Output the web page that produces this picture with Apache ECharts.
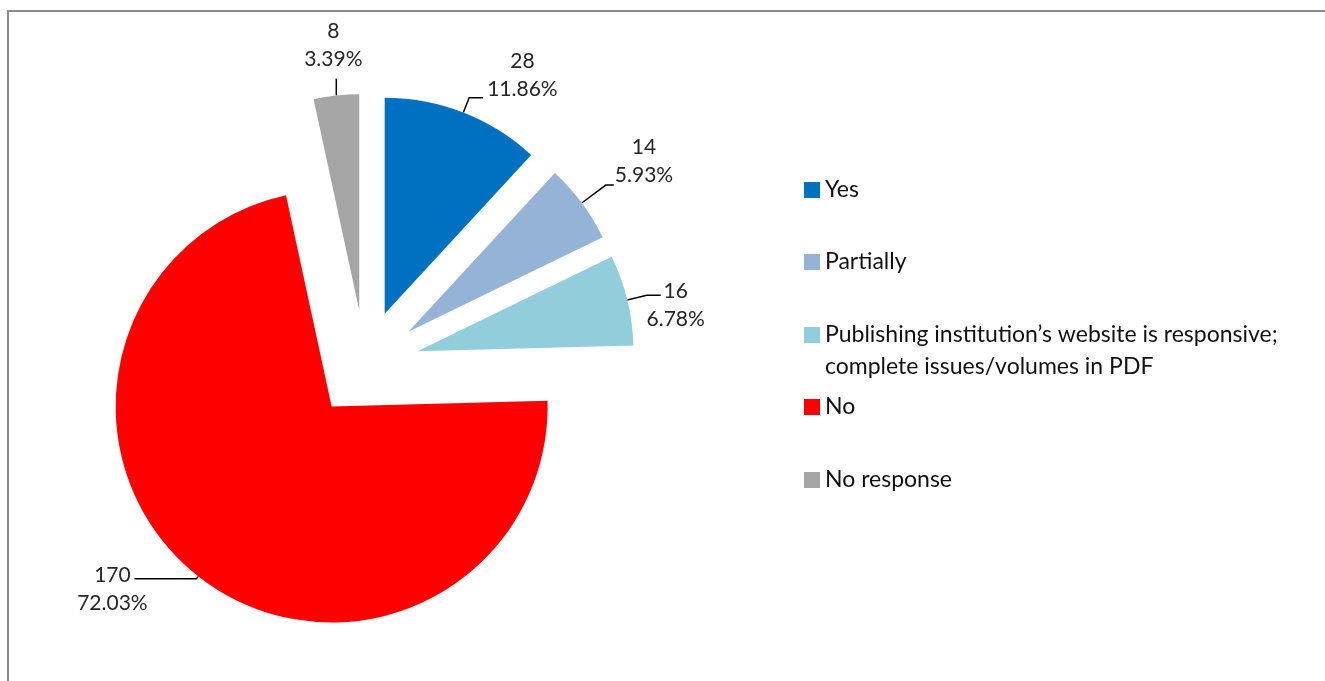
<!DOCTYPE html>
<html><head><meta charset="utf-8">
<script src="https://cdn.jsdelivr.net/npm/echarts@6/dist/echarts.min.js"></script>
<style>html,body{margin:0;padding:0;background:#fff}#c{width:1325px;height:681px}</style>
</head><body><div id="c"></div>
<script>
// ---- data ----
const categories = ['Yes', 'Partially', 'Publishing institution’s website is responsive; complete issues/volumes in PDF', 'No', 'No response'];
const values = [28, 14, 16, 170, 8];
const colors = ['#0070C0', '#95B3D7', '#92CDDC', '#FF0000', '#A5A5A5'];

// ---- styling / layout ----
const FONT = 'Lato';
const CENTER = [365, 364], R = 216, EXPLODE = 54;
const lineLen = [16, 30, 20, 3, 17];
const lineLen2 = [14, 8, 14, 62, 0];
const labelPlace = [
  {sx: 1, dx: 4, dy: -22},
  {sx: 1, dx: 1, dy: -24},
  {sx: 0, dx: 15, dy: 10},
  {sx: 0, dx: -22, dy: 11},
  {sx: 0, dx: -3, dy: -33, vertical: true}
];
const legendTops = [174, 246, 287, 391, 464];

const total = values.reduce((a, b) => a + b, 0);
const series = [];
let cum = 0;
values.forEach((v, i) => {
  const mid = (cum + v / 2) / total * Math.PI * 2;
  cum += v;
  series.push({
    type: 'pie', silent: true, animation: false, avoidLabelOverlap: false,
    center: [CENTER[0] + EXPLODE * Math.sin(mid), CENTER[1] - EXPLODE * Math.cos(mid)],
    radius: R, startAngle: 90, clockwise: true,
    emphasis: {disabled: true},
    label: {
      show: true, position: 'outside',
      formatter: p => p.value + '\n' + (p.value / total * 100).toFixed(2) + '%',
      fontFamily: FONT, fontSize: 21, lineHeight: 28, color: '#262626'
    },
    labelLine: {show: true, lineStyle: {color: '#000', width: 1.5}},
    labelLayout: function (p) {
      const pl = labelPlace[p.dataIndex];
      let pts = p.labelLinePoints;
      if (!pts || !pl) return {};
      if (pl.vertical) pts = [pts[0], [pts[0][0], pts[1][1]], [pts[0][0], pts[1][1]]];
      const end = pts[pts.length - 1];
      const w = p.labelRect.width;
      return {x: end[0] + pl.dx + pl.sx * w / 2, y: end[1] + pl.dy, align: 'center', verticalAlign: 'middle', labelLinePoints: pts};
    },
    data: categories.map((name, j) => j === i
      ? {name, value: values[j], itemStyle: {color: colors[j]}, labelLine: {length: lineLen[j], length2: lineLen2[j]}}
      : {name, value: values[j], itemStyle: {color: 'rgba(0,0,0,0)'}, label: {show: false}, labelLine: {show: false}})
  });
});

// wrapped legend entries get an empty first line so the marker sits beside the first text line
const legends = categories.map((name, i) => ({
  orient: 'vertical', left: 804, top: legendTops[i], padding: 0, icon: 'rect',
  itemWidth: 16, itemHeight: 16, itemGap: 0, selectedMode: false,
  data: [{name, itemStyle: {color: colors[i], opacity: 1}}],
  formatter: n => n.indexOf('; ') >= 0 ? '\n' + n.replace('; ', ';\n') : n,
  textStyle: {fontFamily: FONT, fontSize: 23, lineHeight: 32, color: '#111'}
}));

const chart = echarts.init(document.getElementById('c'));
chart.setOption({
  backgroundColor: '#fff',
  animation: false,
  legend: legends,
  graphic: [{type: 'rect', silent: true, z: -1, shape: {x: 8, y: 11, width: 1400, height: 800}, style: {fill: 'none', stroke: '#8a8a8a', lineWidth: 2}}],
  series
});
</script></body></html>
